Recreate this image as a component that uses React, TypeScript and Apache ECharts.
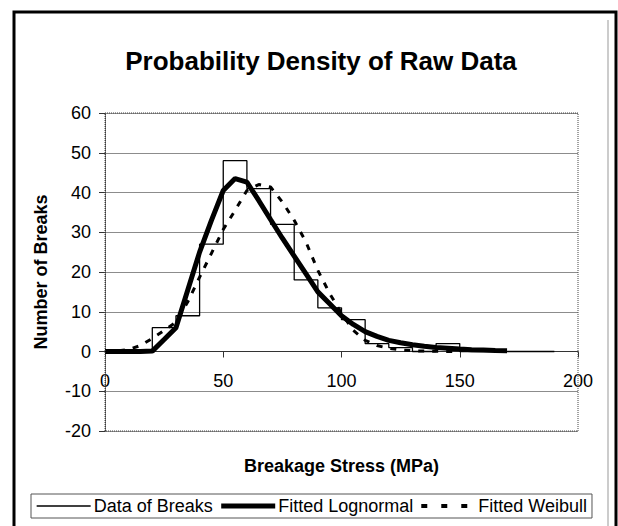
import React, { useEffect, useRef } from "react";
import * as echarts from "echarts";

// Histogram: bin starts (MPa) and counts
const binStarts = [0, 10, 20, 30, 40, 50, 60, 70, 80, 90, 100, 110, 120, 130, 140, 150, 160, 170, 180, 190];
const binCounts = [0, 0, 6, 9, 27, 48, 41, 32, 18, 11, 8, 2, 1, 0, 2, 0, 0, 0, 0, 0];

// Fitted curves sampled every 5 MPa
const fitX = [0, 5, 10, 15, 20, 25, 30, 35, 40, 45, 50, 55, 60, 65, 70, 75, 80, 85, 90, 95, 100, 105, 110, 115, 120, 125, 130, 135, 140, 145, 150, 155, 160, 165, 170];
const lognormal = [0, 0, 0, 0, 0.1, 3, 6, 15.5, 25, 33, 40.5, 43.5, 42.6, 38, 33.2, 28.5, 24, 19.5, 15, 12, 9, 6.8, 5, 3.8, 2.8, 2.2, 1.7, 1.3, 1.0, 0.8, 0.6, 0.45, 0.35, 0.25, 0.2];
const weibull = [0, 0.1, 0.5, 1.5, 3.3, 5.3, 7.4, 12.5, 18.7, 24.7, 30.7, 35.5, 40.5, 42, 41.4, 37.6, 33, 27.5, 20.4, 14.6, 9.6, 5.3, 2.8, 1.5, 0.8, 0.4, 0.2, 0.1, 0.05, 0, 0];

const yTicks = { min: -20, max: 60, interval: 10 };
const xTicks = { min: 0, max: 200, interval: 50 };

const W = 618;
const H = 526;
const GL = 105, GT = 113, GR = 40, GB = 95;
const FONT = "'Liberation Sans', Arial, sans-serif";

export default function App() {
  const ref = useRef<HTMLDivElement>(null);
  useEffect(() => {
    if (!ref.current) return;
    const chart = echarts.init(ref.current, undefined, { renderer: "svg" });
    const pw = W - GL - GR;
    const ph = H - GT - GB;
    // distance from the grid bottom to the y = 0 line, from the axis range
    const zeroOffset = ((0 - yTicks.min) / (yTicks.max - yTicks.min)) * ph;
    chart.setOption({
      animation: false,
      backgroundColor: "#fff",
      textStyle: { fontFamily: FONT },
      title: {
        text: "Probability Density of Raw Data",
        left: 316,
        textAlign: "center",
        top: 43,
        textStyle: { fontFamily: FONT, fontSize: 26, fontWeight: "bold", color: "#000" },
      },
      grid: { left: GL, top: GT, right: GR, bottom: GB, containLabel: false, outerBoundsMode: "none" },
      legend: {
        left: 31,
        top: 494,
        orient: "horizontal",
        itemWidth: 54,
        itemHeight: 10,
        itemGap: 6,
        padding: [3, 5, 3, 5],
        borderColor: "#555",
        borderWidth: 1,
        itemStyle: { opacity: 0 },
        textStyle: { fontFamily: FONT, fontSize: 18, color: "#000", padding: [0, 0, 0, -2] },
        data: [
          { name: "Data of Breaks", lineStyle: { width: 1.3, color: "#000" } },
          { name: "Fitted Lognormal", lineStyle: { width: 5, color: "#000" } },
          { name: "Fitted Weibull", lineStyle: { width: 4, color: "#000", type: [6, 14] } },
        ],
      },
      xAxis: {
        type: "value",
        min: xTicks.min,
        max: xTicks.max,
        interval: xTicks.interval,
        position: "bottom",
        offset: -zeroOffset,
        axisLine: { show: true, onZero: false, lineStyle: { color: "#333", width: 1 } },
        axisTick: { show: true, inside: false, length: 6, lineStyle: { color: "#333" } },
        axisLabel: { fontFamily: FONT, fontSize: 18, color: "#000", margin: 20 },
        splitLine: { show: false },
        name: "Breakage Stress (MPa)",
        nameLocation: "middle",
        nameGap: 105,
        nameTextStyle: { fontFamily: FONT, fontSize: 18, fontWeight: "bold", color: "#000" },
      },
      yAxis: {
        type: "value",
        min: yTicks.min,
        max: yTicks.max,
        interval: yTicks.interval,
        axisLine: { show: true, lineStyle: { color: "#333", width: 1, type: [1, 1] } },
        axisTick: { show: true, inside: false, length: 6, lineStyle: { color: "#333" } },
        axisLabel: { fontFamily: FONT, fontSize: 18, color: "#000", margin: 14 },
        splitLine: { show: true, lineStyle: { color: "#8c8c8c", width: 1 } },
        name: "Number of Breaks",
        nameLocation: "middle",
        nameGap: 55,
        nameTextStyle: { fontFamily: FONT, fontSize: 18, fontWeight: "bold", color: "#000" },
      },
      graphic: [
        {
          type: "rect",
          silent: true,
          z: 100,
          shape: { x: GL, y: GT, width: pw, height: ph },
          style: { fill: "none", stroke: "#444", lineWidth: 1, lineDash: [1, 1] },
        },
        {
          type: "rect",
          silent: true,
          z: 100,
          shape: { x: 14, y: 12, width: 602, height: 540 },
          style: { fill: "none", stroke: "#000", lineWidth: 3 },
        },
        {
          type: "line",
          silent: true,
          z: 100,
          shape: { x1: 608, y1: 20, x2: 608, y2: 530 },
          style: { stroke: "#999", lineWidth: 1 },
        },
      ],
      series: [
        {
          name: "Data of Breaks",
          type: "line",
          step: "end",
          symbol: "none",
          data: binStarts.map((x, i) => [x, binCounts[i]]),
          lineStyle: { color: "#000", width: 1.3 },
          itemStyle: { color: "#000" },
          z: 3,
        },
        {
          name: "Fitted Lognormal",
          type: "line",
          symbol: "none",
          data: fitX.map((x, i) => [x, lognormal[i]]),
          lineStyle: { color: "#000", width: 5 },
          itemStyle: { color: "#000" },
          z: 4,
        },
        {
          name: "Fitted Weibull",
          type: "line",
          symbol: "none",
          data: weibull.map((v, i) => [fitX[i], v]),
          lineStyle: { color: "#000", width: 3, type: [6, 8] },
          itemStyle: { color: "#000" },
          z: 5,
        },
      ],
    });
    return () => chart.dispose();
  }, []);
  return <div ref={ref} style={{ position: "fixed", left: 0, top: 0, width: W, height: H }} />;
}
